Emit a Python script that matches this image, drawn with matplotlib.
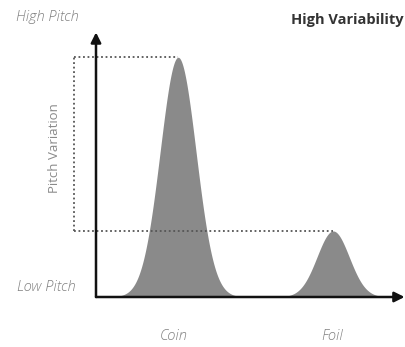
import numpy as np
import matplotlib
matplotlib.use("Agg")
import matplotlib.pyplot as plt

# Data
categories = ["Coin", "Foil"]
centers = [27.0, 78.0]          # position along x (0-100)
peak_heights = [91.5, 25.2]     # pitch variation (0-100)
widths = [5.9, 5.3]             # spread of each peak
y_labels = ["Low Pitch", "High Pitch"]

W, H = 406, 347
fig = plt.figure(figsize=(W / 100, H / 100), dpi=100)
fig.patch.set_facecolor("white")

left_px, right_px, bottom_px, top_px = 96, 400, 297, 35
ax = fig.add_axes([left_px / W, 1 - bottom_px / H, (right_px - left_px) / W, (bottom_px - top_px) / H])
ax.set_xlim(0, 100)
ax.set_ylim(0, 100)
ax.axis("off")

fill_col = "#8a8a8a"
x = np.linspace(0, 100, 1000)
for c, h, s in zip(centers, peak_heights, widths):
    y = h * np.exp(-0.5 * ((x - c) / s) ** 2)
    ax.fill_between(x, 0, y, color=fill_col, lw=0, zorder=2)

# dotted guide lines
gx = -7.2
dot_kw = dict(color="#555555", lw=1.3, ls=(0, (1, 1.5)), clip_on=False, zorder=3)
ax.plot([gx, gx], [peak_heights[1], peak_heights[0]], **dot_kw)
ax.plot([gx, centers[0]], [peak_heights[0], peak_heights[0]], **dot_kw)
ax.plot([gx, centers[1]], [peak_heights[1], peak_heights[1]], **dot_kw)

# axes with arrows
arr = dict(arrowstyle="-|>,head_length=0.6,head_width=0.3", color="#111111", lw=1.8, shrinkA=0, shrinkB=0)
ax.annotate("", xy=(0, 101), xytext=(0, 0), arrowprops=arr, annotation_clip=False, zorder=4)
ax.annotate("", xy=(101.5, 0), xytext=(0, 0), arrowprops=arr, annotation_clip=False, zorder=4)

txt_col = "#808080"
font = "Open Sans"
fig.text(47 / W, 1 - 17 / H, y_labels[1], ha="center", va="center", fontsize=10.5,
         style="italic", fontweight="light", color=txt_col, family=font)
fig.text(46 / W, 1 - 287 / H, y_labels[0], ha="center", va="center", fontsize=10.5,
         style="italic", fontweight="light", color=txt_col, family=font)
fig.text(55 / W, 1 - 148 / H, "Pitch Variation", ha="center", va="center", fontsize=9.5,
         rotation=90, color="#8a8a8a", family=font)
fig.text(404 / W, 1 - 20 / H, "High Variability", ha="right", va="center", fontsize=10.5,
         fontweight="bold", color="#333333", family=font)
for c, lab, dx in zip(centers, categories, [-4, -1]):
    xp = ax.transData.transform((c, 0))[0] + dx
    fig.text(xp / W, 1 - 336 / H, lab, ha="center", va="center", fontsize=10.5,
             style="italic", fontweight="light", color=txt_col, family=font)

fig.savefig("out.png", dpi=100)
